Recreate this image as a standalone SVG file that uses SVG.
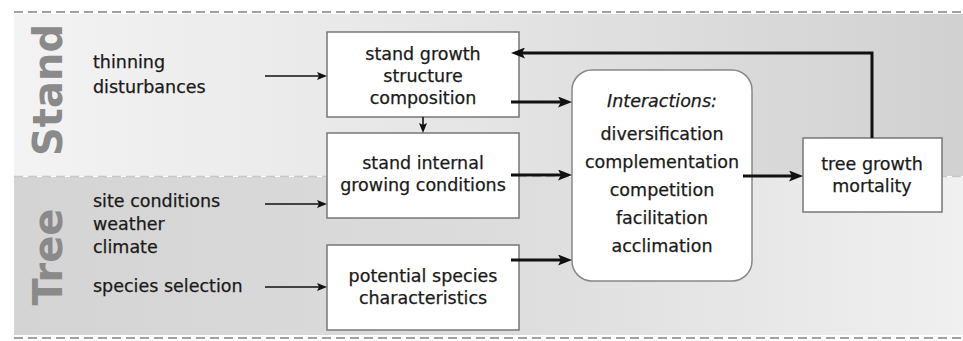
<svg xmlns="http://www.w3.org/2000/svg" width="963" height="341" viewBox="0 0 963 341">
<defs>
<linearGradient id="gStand" x1="0" y1="0" x2="1" y2="0">
<stop offset="0" stop-color="#f3f3f3"/><stop offset="0.45" stop-color="#e6e6e6"/><stop offset="1" stop-color="#d1d1d1"/>
</linearGradient>
<linearGradient id="gTree" x1="0" y1="0" x2="1" y2="0">
<stop offset="0" stop-color="#d4d4d4"/><stop offset="0.5" stop-color="#dcdcdc"/><stop offset="1" stop-color="#f0f0f0"/>
</linearGradient>
<marker id="thin" markerUnits="userSpaceOnUse" markerWidth="10" markerHeight="8" refX="4" refY="4" orient="auto">
<path d="M0,0 L10,4 L0,8 L2,4 z" fill="#111"/>
</marker>
<marker id="thick" markerUnits="userSpaceOnUse" markerWidth="14" markerHeight="11" refX="6" refY="5.5" orient="auto">
<path d="M0,0 L14,5.5 L0,11 L3,5.5 z" fill="#111"/>
</marker>
<style>
.t{font-family:"DejaVu Sans",Verdana,sans-serif;font-size:17.5px;fill:#1a1a1a;stroke:#1a1a1a;stroke-width:0.25}
.c{text-anchor:middle}
.band{font-family:"DejaVu Sans",Verdana,sans-serif;font-size:40px;font-weight:bold;fill:#8a8a8a;text-anchor:middle}
.box{fill:#fff;stroke:#777;stroke-width:1.5}
.dash{stroke:#a0a0a0;stroke-width:2;stroke-dasharray:9 5;fill:none}
.thin{stroke:#111;stroke-width:1.6;fill:none;marker-end:url(#thin)}
.thick{stroke:#111;stroke-width:3;fill:none;marker-end:url(#thick)}
</style>
</defs>
<g id="background">
<rect x="14" y="14" width="949" height="162" fill="url(#gStand)"/>
<rect x="14" y="177" width="949" height="158" fill="url(#gTree)"/>
<line class="dash" x1="14" y1="12" x2="963" y2="12"/>
<line class="dash" x1="14" y1="176.5" x2="963" y2="176.5" style="stroke:#c8c8c8;stroke-width:1.5"/>
<line class="dash" x1="14" y1="338" x2="963" y2="338"/>
<text class="band" transform="translate(62,90) rotate(-90)">Stand</text>
<text class="band" transform="translate(62,257) rotate(-90)">Tree</text>
</g>
<g id="inputs-stand">
<text class="t" x="93" y="68">thinning</text>
<text class="t" x="93" y="93">disturbances</text>
</g>
<g id="inputs-tree">
<text class="t" x="93" y="207">site conditions</text>
<text class="t" x="93" y="230">weather</text>
<text class="t" x="93" y="253">climate</text>
<text class="t" x="93" y="292">species selection</text>
</g>
<g id="stand-growth">
<rect class="box" x="327" y="32" width="192" height="85"/>
<text class="t c" x="423" y="60">stand growth</text>
<text class="t c" x="423" y="82">structure</text>
<text class="t c" x="423" y="104">composition</text>
</g>
<g id="stand-internal">
<rect class="box" x="327" y="133" width="192" height="85"/>
<text class="t c" x="423" y="169">stand internal</text>
<text class="t c" x="423" y="191">growing conditions</text>
</g>
<g id="potential-species">
<rect class="box" x="327" y="245" width="192" height="85"/>
<text class="t c" x="423" y="282">potential species</text>
<text class="t c" x="423" y="304">characteristics</text>
</g>
<g id="interactions">
<rect class="box" x="572" y="70" width="180" height="211" rx="20" ry="20" style="stroke:#888"/>
<text class="t c" x="662" y="107" font-style="italic">Interactions:</text>
<text class="t c" x="662" y="140">diversification</text>
<text class="t c" x="662" y="168">complementation</text>
<text class="t c" x="662" y="196">competition</text>
<text class="t c" x="662" y="224">facilitation</text>
<text class="t c" x="662" y="252">acclimation</text>
</g>
<g id="tree-growth">
<rect class="box" x="803" y="138" width="139" height="74"/>
<text class="t c" x="872" y="170">tree growth</text>
<text class="t c" x="872" y="192">mortality</text>
</g>
<g id="connectors">
<line class="thin" x1="265" y1="76" x2="321" y2="76"/>
<line class="thin" x1="265" y1="204" x2="321" y2="204"/>
<line class="thin" x1="265" y1="287" x2="321" y2="287"/>
<line class="thin" x1="423" y1="117" x2="423" y2="127"/>
<line class="thick" x1="511" y1="102" x2="564" y2="102"/>
<line class="thick" x1="511" y1="175" x2="564" y2="175"/>
<line class="thick" x1="511" y1="260" x2="564" y2="260"/>
<line class="thick" x1="743" y1="176" x2="795" y2="176"/>
<polyline class="thick" points="872,138 872,53 519,53"/>
</g>
</svg>
